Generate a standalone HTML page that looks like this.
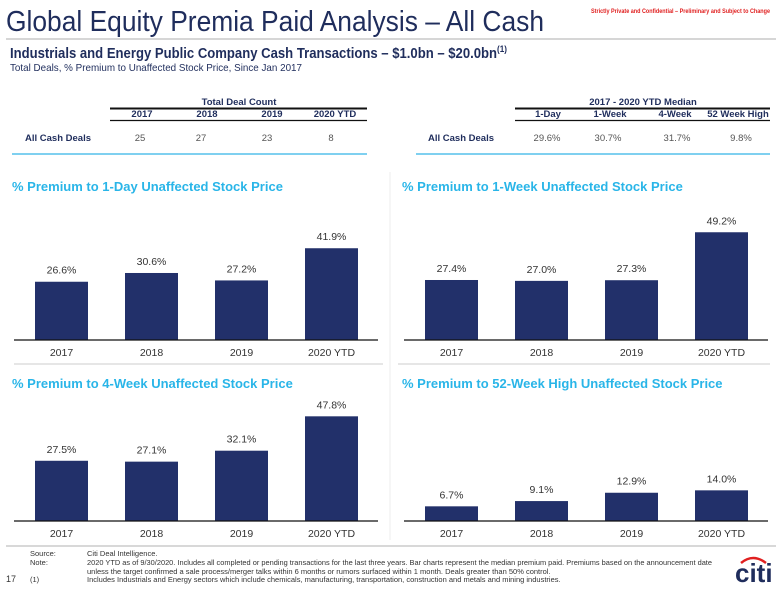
<!DOCTYPE html>
<html><head><meta charset="utf-8"><style>
html,body{margin:0;padding:0;background:#fff;}
body{width:780px;height:585px;overflow:hidden;position:relative;font-family:"Liberation Sans",sans-serif;}
svg text{font-family:"Liberation Sans",sans-serif;}
</style></head><body>
<svg id="s" width="780" height="585" viewBox="0 0 780 585" xmlns="http://www.w3.org/2000/svg">
<text x="6" y="31" font-size="29" fill="#1f2d5c" textLength="538" lengthAdjust="spacingAndGlyphs">Global Equity Premia Paid Analysis – All Cash</text>
<text x="591" y="13" font-size="6" fill="#e02020" font-weight="bold" textLength="179" lengthAdjust="spacingAndGlyphs">Strictly Private and Confidential – Preliminary and Subject to Change</text>
<line x1="6" y1="39" x2="776" y2="39" stroke="#c8c8c8" stroke-width="1.5"/>
<text x="10" y="58" font-size="14.5" font-weight="bold" fill="#1f2d5c" textLength="497" lengthAdjust="spacingAndGlyphs">Industrials and Energy Public Company Cash Transactions – $1.0bn – $20.0bn<tspan font-size="9" dy="-6">(1)</tspan></text>
<text x="10" y="71" font-size="10.5" fill="#1f2d5c" textLength="292" lengthAdjust="spacingAndGlyphs">Total Deals, % Premium to Unaffected Stock Price, Since Jan 2017</text>

<g font-size="9.5">
<text x="239" y="105" text-anchor="middle" font-weight="bold" fill="#1f2d5c">Total Deal Count</text>
<line x1="110" y1="108.5" x2="367" y2="108.5" stroke="#111" stroke-width="2"/>
<text x="142" y="117" text-anchor="middle" font-weight="bold" fill="#1f2d5c">2017</text>
<text x="207" y="117" text-anchor="middle" font-weight="bold" fill="#1f2d5c">2018</text>
<text x="272" y="117" text-anchor="middle" font-weight="bold" fill="#1f2d5c">2019</text>
<text x="335" y="117" text-anchor="middle" font-weight="bold" fill="#1f2d5c">2020 YTD</text>
<line x1="110" y1="120.5" x2="367" y2="120.5" stroke="#111" stroke-width="1.2"/>
<text x="91" y="141" text-anchor="end" font-weight="bold" fill="#1f2d5c">All Cash Deals</text>
<text x="140" y="141" text-anchor="middle" fill="#555">25</text>
<text x="201" y="141" text-anchor="middle" fill="#555">27</text>
<text x="267" y="141" text-anchor="middle" fill="#555">23</text>
<text x="331" y="141" text-anchor="middle" fill="#555">8</text>
<line x1="12" y1="154" x2="367" y2="154" stroke="#7fd0f0" stroke-width="2"/>
</g>
<g font-size="9.5">
<text x="643" y="105" text-anchor="middle" font-weight="bold" fill="#1f2d5c">2017 - 2020 YTD Median</text>
<line x1="515" y1="108.5" x2="770" y2="108.5" stroke="#111" stroke-width="2"/>
<text x="548" y="117" text-anchor="middle" font-weight="bold" fill="#1f2d5c">1-Day</text>
<text x="610" y="117" text-anchor="middle" font-weight="bold" fill="#1f2d5c">1-Week</text>
<text x="675" y="117" text-anchor="middle" font-weight="bold" fill="#1f2d5c">4-Week</text>
<text x="738" y="117" text-anchor="middle" font-weight="bold" fill="#1f2d5c">52 Week High</text>
<line x1="515" y1="120.5" x2="770" y2="120.5" stroke="#111" stroke-width="1.2"/>
<text x="494" y="141" text-anchor="end" font-weight="bold" fill="#1f2d5c">All Cash Deals</text>
<text x="547" y="141" text-anchor="middle" fill="#555">29.6%</text>
<text x="608" y="141" text-anchor="middle" fill="#555">30.7%</text>
<text x="677" y="141" text-anchor="middle" fill="#555">31.7%</text>
<text x="741" y="141" text-anchor="middle" fill="#555">9.8%</text>
<line x1="416" y1="154" x2="770" y2="154" stroke="#7fd0f0" stroke-width="2"/>
</g>
<line x1="390" y1="172" x2="390" y2="540" stroke="#eee" stroke-width="1"/>
<line x1="14" y1="364" x2="383" y2="364" stroke="#ddd" stroke-width="1.5"/>
<line x1="398" y1="364" x2="770" y2="364" stroke="#ddd" stroke-width="1.5"/>
<line x1="6" y1="546" x2="776" y2="546" stroke="#ccc" stroke-width="1.5"/>

<g font-size="7.5" fill="#333">
<text x="30" y="556">Source:</text><text x="87" y="556">Citi Deal Intelligence.</text>
<text x="30" y="565">Note:</text><text x="87" y="565" textLength="625" lengthAdjust="spacingAndGlyphs">2020 YTD as of 9/30/2020. Includes all completed or pending transactions for the last three years. Bar charts represent the median premium paid. Premiums based on the announcement date</text>
<text x="87" y="574">unless the target confirmed a sale process/merger talks within 6 months or rumors surfaced within 1 month. Deals greater than 50% control.</text>
<text x="6" y="582" font-size="9">17</text><text x="30" y="582">(1)</text><text x="87" y="582">Includes Industrials and Energy sectors which include chemicals, manufacturing, transportation, construction and metals and mining industries.</text>
</g>
<g>
<text x="735" y="582" font-size="26" font-weight="bold" fill="#1f2d5c">citi</text>
<path d="M741 563 Q753 553 766 563" stroke="#e02020" stroke-width="2.5" fill="none"/>
</g>
</svg>
<script>
const categories = ["2017","2018","2019","2020 YTD"];
const oneDay = [26.6, 30.6, 27.2, 41.9];
const oneWeek = [27.4, 27.0, 27.3, 49.2];
const fourWeek = [27.5, 27.1, 32.1, 47.8];
const week52 = [6.7, 9.1, 12.9, 14.0];
const titles = ["% Premium to 1-Day Unaffected Stock Price","% Premium to 1-Week Unaffected Stock Price","% Premium to 4-Week Unaffected Stock Price","% Premium to 52-Week High Unaffected Stock Price"];
const NS="http://www.w3.org/2000/svg";
const svg=document.getElementById('s');
function mk(t,a,p){const e=document.createElementNS(NS,t);for(const k in a)e.setAttribute(k,a[k]);(p||svg).appendChild(e);return e;}
const panels=[{x:0,base:340,ty:191,d:oneDay,n:'one-day'},{x:390,base:340,ty:191,d:oneWeek,n:'one-week'},{x:0,base:521,ty:388,d:fourWeek,n:'four-week'},{x:390,base:521,ty:388,d:week52,n:'week-52'}];
const scale=2.19;
function yScale(v,base){return base-v*scale;}
function xBand(i,x0){return x0+35+i*90;}
panels.forEach((p,pi)=>{
  const g=mk('g',{});
  
  
  const t=mk('text',{x:p.x+12,y:p.ty,'font-size':13,'font-weight':'bold',fill:'#29b5e8'},g);
  t.textContent=titles[pi];
  
  
  p.d.forEach((v,i)=>{
    const bx=xBand(i,p.x), top=yScale(v,p.base);
    const r=mk('rect',{x:bx,y:top,width:53,height:p.base-top,fill:'#22306a'},g);
    
    
    const l=mk('text',{x:bx+26.5,y:top-8,'font-size':10.5,'text-anchor':'middle',fill:'#333'},g);
    l.textContent=v.toFixed(1)+'%';
    
    
    const c=mk('text',{x:bx+26.5,y:p.base+16,'font-size':10.5,'text-anchor':'middle',fill:'#333'},g);
    c.textContent=categories[i];
    
    
  });
  const ax=mk('line',{x1:p.x+14,y1:p.base,x2:p.x+378,y2:p.base,stroke:'#111','stroke-width':1.2},g);
  
  
});
</script>
</body></html>
